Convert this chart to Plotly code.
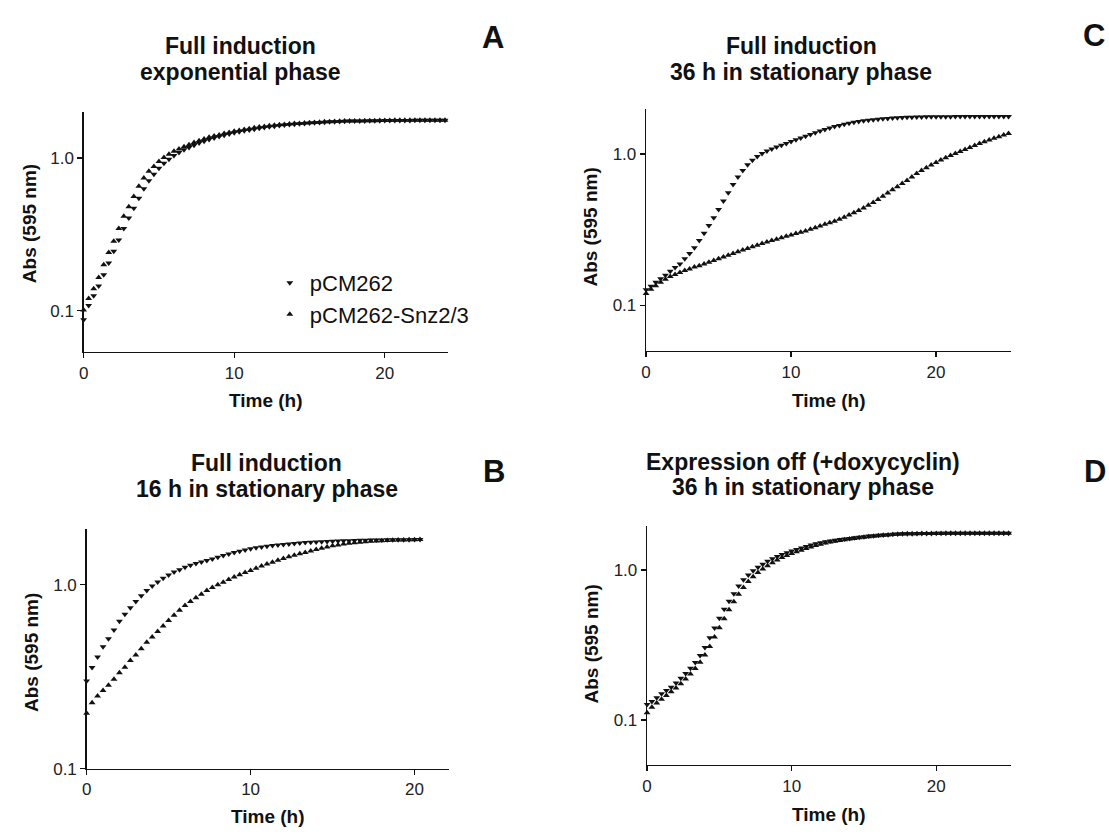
import plotly.graph_objects as go

W, H = 1109, 835

# ---------------- data (Abs 595 nm, sampled every 20 min) ----------------
time_A = [round(k / 3, 3) for k in range(73)]   # 0 .. 24 h
time_B = [round(k / 3, 3) for k in range(62)]   # 0 .. 20.3 h
time_C = [round(k / 3, 3) for k in range(76)]   # 0 .. 25 h
time_D = [round(k / 3, 3) for k in range(76)]   # 0 .. 25 h

# Panel A: Full induction, exponential phase
A_pcm262 = [0.087, 0.108, 0.125, 0.145, 0.172, 0.205, 0.245, 0.290, 0.345, 0.405, 0.470, 0.545,
            0.630, 0.710, 0.785, 0.860, 0.925, 0.985, 1.040, 1.090, 1.135, 1.175, 1.215, 1.255,
            1.290, 1.325, 1.355, 1.385, 1.415, 1.440, 1.465, 1.490, 1.510, 1.530, 1.550, 1.570,
            1.590, 1.605, 1.620, 1.635, 1.650, 1.660, 1.670, 1.680, 1.690, 1.700, 1.705, 1.715,
            1.720, 1.730, 1.735, 1.740, 1.745, 1.750, 1.750, 1.755, 1.755, 1.760, 1.760, 1.762,
            1.764, 1.765, 1.766, 1.767, 1.768, 1.769, 1.770, 1.770, 1.771, 1.772, 1.772, 1.773,
            1.773]
A_snz23 = [0.101, 0.120, 0.139, 0.165, 0.200, 0.240, 0.285, 0.345, 0.415, 0.480, 0.560, 0.655,
           0.740, 0.820, 0.880, 0.950, 1.010, 1.060, 1.110, 1.150, 1.190, 1.225, 1.265, 1.300,
           1.335, 1.370, 1.395, 1.420, 1.450, 1.475, 1.500, 1.520, 1.540, 1.560, 1.580, 1.600,
           1.615, 1.630, 1.645, 1.655, 1.665, 1.675, 1.685, 1.690, 1.700, 1.710, 1.715, 1.720,
           1.730, 1.735, 1.740, 1.745, 1.750, 1.750, 1.755, 1.755, 1.760, 1.760, 1.760, 1.765,
           1.765, 1.765, 1.770, 1.770, 1.770, 1.770, 1.770, 1.775, 1.775, 1.775, 1.775, 1.775,
           1.775]

# Panel B: Full induction, 16 h in stationary phase
B_pcm262 = [0.300, 0.355, 0.405, 0.460, 0.508, 0.567, 0.632, 0.690, 0.750, 0.810, 0.870, 0.930,
            0.985, 1.035, 1.085, 1.130, 1.172, 1.205, 1.245, 1.275, 1.302, 1.330, 1.355, 1.380,
            1.410, 1.440, 1.470, 1.495, 1.520, 1.543, 1.567, 1.590, 1.605, 1.620, 1.634, 1.645,
            1.655, 1.665, 1.675, 1.685, 1.695, 1.700, 1.705, 1.712, 1.718, 1.722, 1.727, 1.732,
            1.736, 1.740, 1.743, 1.746, 1.748, 1.750, 1.752, 1.753, 1.755, 1.756, 1.757, 1.758,
            1.759, 1.760]
B_snz23 = [0.200, 0.228, 0.248, 0.266, 0.284, 0.306, 0.332, 0.356, 0.387, 0.415, 0.448, 0.486,
           0.520, 0.557, 0.596, 0.638, 0.682, 0.726, 0.772, 0.811, 0.849, 0.887, 0.929, 0.965,
           0.998, 1.032, 1.066, 1.100, 1.133, 1.165, 1.195, 1.228, 1.262, 1.295, 1.326, 1.358,
           1.390, 1.418, 1.446, 1.472, 1.497, 1.525, 1.553, 1.580, 1.605, 1.627, 1.645, 1.663,
           1.680, 1.690, 1.700, 1.710, 1.720, 1.728, 1.735, 1.740, 1.745, 1.749, 1.752, 1.755,
           1.757, 1.759]

# Panel C: Full induction, 36 h in stationary phase
C_pcm262 = [0.127, 0.134, 0.142, 0.150, 0.158, 0.168, 0.178, 0.188, 0.203, 0.220, 0.240, 0.268,
            0.300, 0.337, 0.380, 0.430, 0.490, 0.555, 0.630, 0.705, 0.780, 0.850, 0.910, 0.965,
            1.010, 1.048, 1.082, 1.115, 1.145, 1.175, 1.210, 1.243, 1.277, 1.310, 1.347, 1.383,
            1.420, 1.453, 1.487, 1.520, 1.547, 1.573, 1.600, 1.620, 1.640, 1.660, 1.673, 1.687,
            1.700, 1.710, 1.720, 1.730, 1.737, 1.743, 1.750, 1.753, 1.757, 1.760, 1.762, 1.764,
            1.765, 1.766, 1.767, 1.768, 1.769, 1.770, 1.770, 1.770, 1.771, 1.771, 1.772, 1.772,
            1.772, 1.773, 1.773, 1.773]
C_snz23 = [0.120, 0.128, 0.135, 0.142, 0.149, 0.155, 0.160, 0.165, 0.170, 0.174, 0.179, 0.183,
           0.188, 0.193, 0.198, 0.203, 0.209, 0.214, 0.220, 0.226, 0.232, 0.238, 0.244, 0.250,
           0.256, 0.262, 0.268, 0.274, 0.280, 0.286, 0.292, 0.298, 0.304, 0.310, 0.318, 0.326,
           0.335, 0.343, 0.351, 0.360, 0.371, 0.383, 0.395, 0.409, 0.424, 0.440, 0.459, 0.479,
           0.500, 0.526, 0.552, 0.580, 0.609, 0.639, 0.670, 0.706, 0.743, 0.780, 0.813, 0.847,
           0.880, 0.913, 0.947, 0.980, 1.010, 1.040, 1.070, 1.105, 1.140, 1.175, 1.207, 1.238,
           1.270, 1.303, 1.337, 1.370]

# Panel D: Expression off (+doxycyclin), 36 h in stationary phase
D_pcm262 = [0.127, 0.133, 0.141, 0.150, 0.158, 0.166, 0.177, 0.190, 0.205, 0.222, 0.242, 0.270,
            0.305, 0.355, 0.412, 0.478, 0.548, 0.620, 0.697, 0.785, 0.862, 0.930, 0.990, 1.045,
            1.095, 1.145, 1.190, 1.232, 1.270, 1.305, 1.340, 1.372, 1.405, 1.438, 1.470, 1.498,
            1.525, 1.545, 1.565, 1.585, 1.600, 1.614, 1.628, 1.643, 1.657, 1.672, 1.687, 1.697,
            1.707, 1.716, 1.725, 1.733, 1.740, 1.747, 1.750, 1.752, 1.754, 1.756, 1.757, 1.758,
            1.760, 1.760, 1.761, 1.761, 1.762, 1.762, 1.762, 1.763, 1.763, 1.763, 1.764, 1.764,
            1.764, 1.765, 1.765, 1.765]
D_snz23 = [0.112, 0.122, 0.130, 0.138, 0.146, 0.155, 0.164, 0.175, 0.188, 0.203, 0.221, 0.243,
           0.272, 0.310, 0.358, 0.413, 0.475, 0.545, 0.615, 0.690, 0.768, 0.840, 0.905, 0.965,
           1.020, 1.070, 1.120, 1.170, 1.215, 1.255, 1.290, 1.325, 1.360, 1.395, 1.430, 1.460,
           1.490, 1.515, 1.540, 1.560, 1.580, 1.597, 1.613, 1.628, 1.643, 1.658, 1.672, 1.685,
           1.697, 1.707, 1.717, 1.726, 1.734, 1.741, 1.746, 1.749, 1.752, 1.754, 1.756, 1.757,
           1.758, 1.759, 1.760, 1.760, 1.761, 1.761, 1.762, 1.762, 1.763, 1.763, 1.763, 1.764,
           1.764, 1.764, 1.765, 1.765]

series_names = ["pCM262", "pCM262-Snz2/3"]
x_ticks = [0, 10, 20]
y_ticks = [0.1, 1.0]
y_tick_labels = ["0.1", "1.0"]
titles = {
    "A": ["Full induction", "exponential phase"],
    "B": ["Full induction", "16 h in stationary phase"],
    "C": ["Full induction", "36 h in stationary phase"],
    "D": ["Expression off (+doxycyclin)", "36 h in stationary phase"],
}
x_title = "Time (h)"
y_title = "Abs (595 nm)"

# ---------------- layout geometry (page pixels) ----------------
def px(x):
    return x / W

def py(y):
    return 1 - y / H

FONT = "Liberation Sans, Arial, Helvetica, sans-serif"
INK = "#111111"

panels = [
    dict(key="A", t=time_A, p=A_pcm262, s=A_snz23, i=1, xd=(79, 445), yd=(113, 356),
         xr=[0, 24.2], yr=[-1.27, 0.305], tx=237, ty=(47, 73), lx=477, ly=38,
         ytx=24, yty=226, xty=405),
    dict(key="C", t=time_C, p=C_pcm262, s=C_snz23, i=2, xd=(644, 1011), yd=(110, 355),
         xr=[0, 25.2], yr=[-1.30, 0.300], tx=800, ty=(47, 73), lx=1081, ly=36,
         ytx=588, yty=230, xty=405),
    dict(key="B", t=time_B, p=B_pcm262, s=B_snz23, i=3, xd=(82, 446), yd=(535, 778),
         xr=[0, 22.1], yr=[-1.0, 0.305], tx=263, ty=(469, 495), lx=478, ly=477,
         ytx=26, yty=660, xty=826),
    dict(key="D", t=time_D, p=D_pcm262, s=D_snz23, i=4, xd=(645, 1011), yd=(532, 774),
         xr=[0, 25.2], yr=[-1.297, 0.297], tx=802, ty=(468, 493), lx=1082, ly=477,
         ytx=589, yty=652, xty=824),
]

fig = go.Figure()
annotations = []
layout_axes = {}

for pnl in panels:
    i = pnl["i"]
    xa = "x" if i == 1 else f"x{i}"
    ya = "y" if i == 1 else f"y{i}"
    show = pnl["key"] == "A"
    fig.add_trace(go.Scatter(
        x=pnl["t"], y=pnl["p"], xaxis=xa, yaxis=ya, mode="markers",
        name=series_names[0], showlegend=show, legendrank=1,
        marker=dict(symbol="triangle-down", size=6, color=INK, line=dict(width=0)),
        cliponaxis=False))
    fig.add_trace(go.Scatter(
        x=pnl["t"], y=pnl["s"], xaxis=xa, yaxis=ya, mode="markers",
        name=series_names[1], showlegend=show, legendrank=2,
        marker=dict(symbol="triangle-up", size=6, color=INK, line=dict(width=0)),
        cliponaxis=False))

    axis_common = dict(showline=True, linecolor=INK, linewidth=1.4, ticks="outside",
                       ticklen=5, tickwidth=1.4, tickcolor=INK, showgrid=False,
                       zeroline=False, tickfont=dict(family=FONT, size=17, color="#222"),
                       fixedrange=True)
    layout_axes["xaxis" if i == 1 else f"xaxis{i}"] = dict(
        axis_common, domain=[px(pnl["xd"][0]), px(pnl["xd"][1])], range=pnl["xr"],
        anchor=ya, tickvals=x_ticks, ticktext=[str(v) for v in x_ticks])
    layout_axes["yaxis" if i == 1 else f"yaxis{i}"] = dict(
        axis_common, type="log", domain=[py(pnl["yd"][1]), py(pnl["yd"][0])],
        range=pnl["yr"], anchor=xa, tickvals=y_ticks, ticktext=y_tick_labels)

    for line, yy in zip(titles[pnl["key"]], pnl["ty"]):
        annotations.append(dict(text=f"<b>{line}</b>", x=px(pnl["tx"]), y=py(yy),
                                xref="paper", yref="paper", showarrow=False,
                                xanchor="center", yanchor="middle",
                                font=dict(family=FONT, size=23, color=INK)))
    annotations.append(dict(text=f"<b>{pnl['key']}</b>", x=px(pnl["lx"]), y=py(pnl["ly"]),
                            xref="paper", yref="paper", showarrow=False,
                            xanchor="left", yanchor="middle",
                            font=dict(family=FONT, size=31, color=INK)))
    annotations.append(dict(text=f"<b>{y_title}</b>", x=px(pnl["ytx"]), y=py(pnl["yty"]),
                            xref="paper", yref="paper", showarrow=False, textangle=-90,
                            xanchor="center", yanchor="middle",
                            font=dict(family=FONT, size=19, color=INK)))
    annotations.append(dict(text=f"<b>{x_title}</b>",
                            x=px((pnl["xd"][0] + pnl["xd"][1]) / 2), y=py(pnl["xty"]),
                            xref="paper", yref="paper", showarrow=False,
                            xanchor="center", yanchor="middle",
                            font=dict(family=FONT, size=19, color=INK)))

fig.update_layout(
    width=W, height=H,
    margin=dict(l=0, r=0, t=0, b=0),
    paper_bgcolor="white", plot_bgcolor="white",
    font=dict(family=FONT, color=INK),
    showlegend=True,
    legend=dict(x=px(266), y=py(265), xanchor="left", yanchor="top",
                bgcolor="rgba(0,0,0,0)", borderwidth=0,
                font=dict(family=FONT, size=22, color=INK),
                tracegroupgap=0, itemwidth=30),
    annotations=annotations,
    **layout_axes,
)

# remove the default page margin so the figure sits exactly in the 1109x835 window
page_fix = ("document.body.style.margin='0';"
            "document.documentElement.style.overflow='hidden';"
            "document.body.style.overflow='hidden';")
fig.write_html("out.html", post_script=page_fix,
               config={"displayModeBar": False, "staticPlot": True})
